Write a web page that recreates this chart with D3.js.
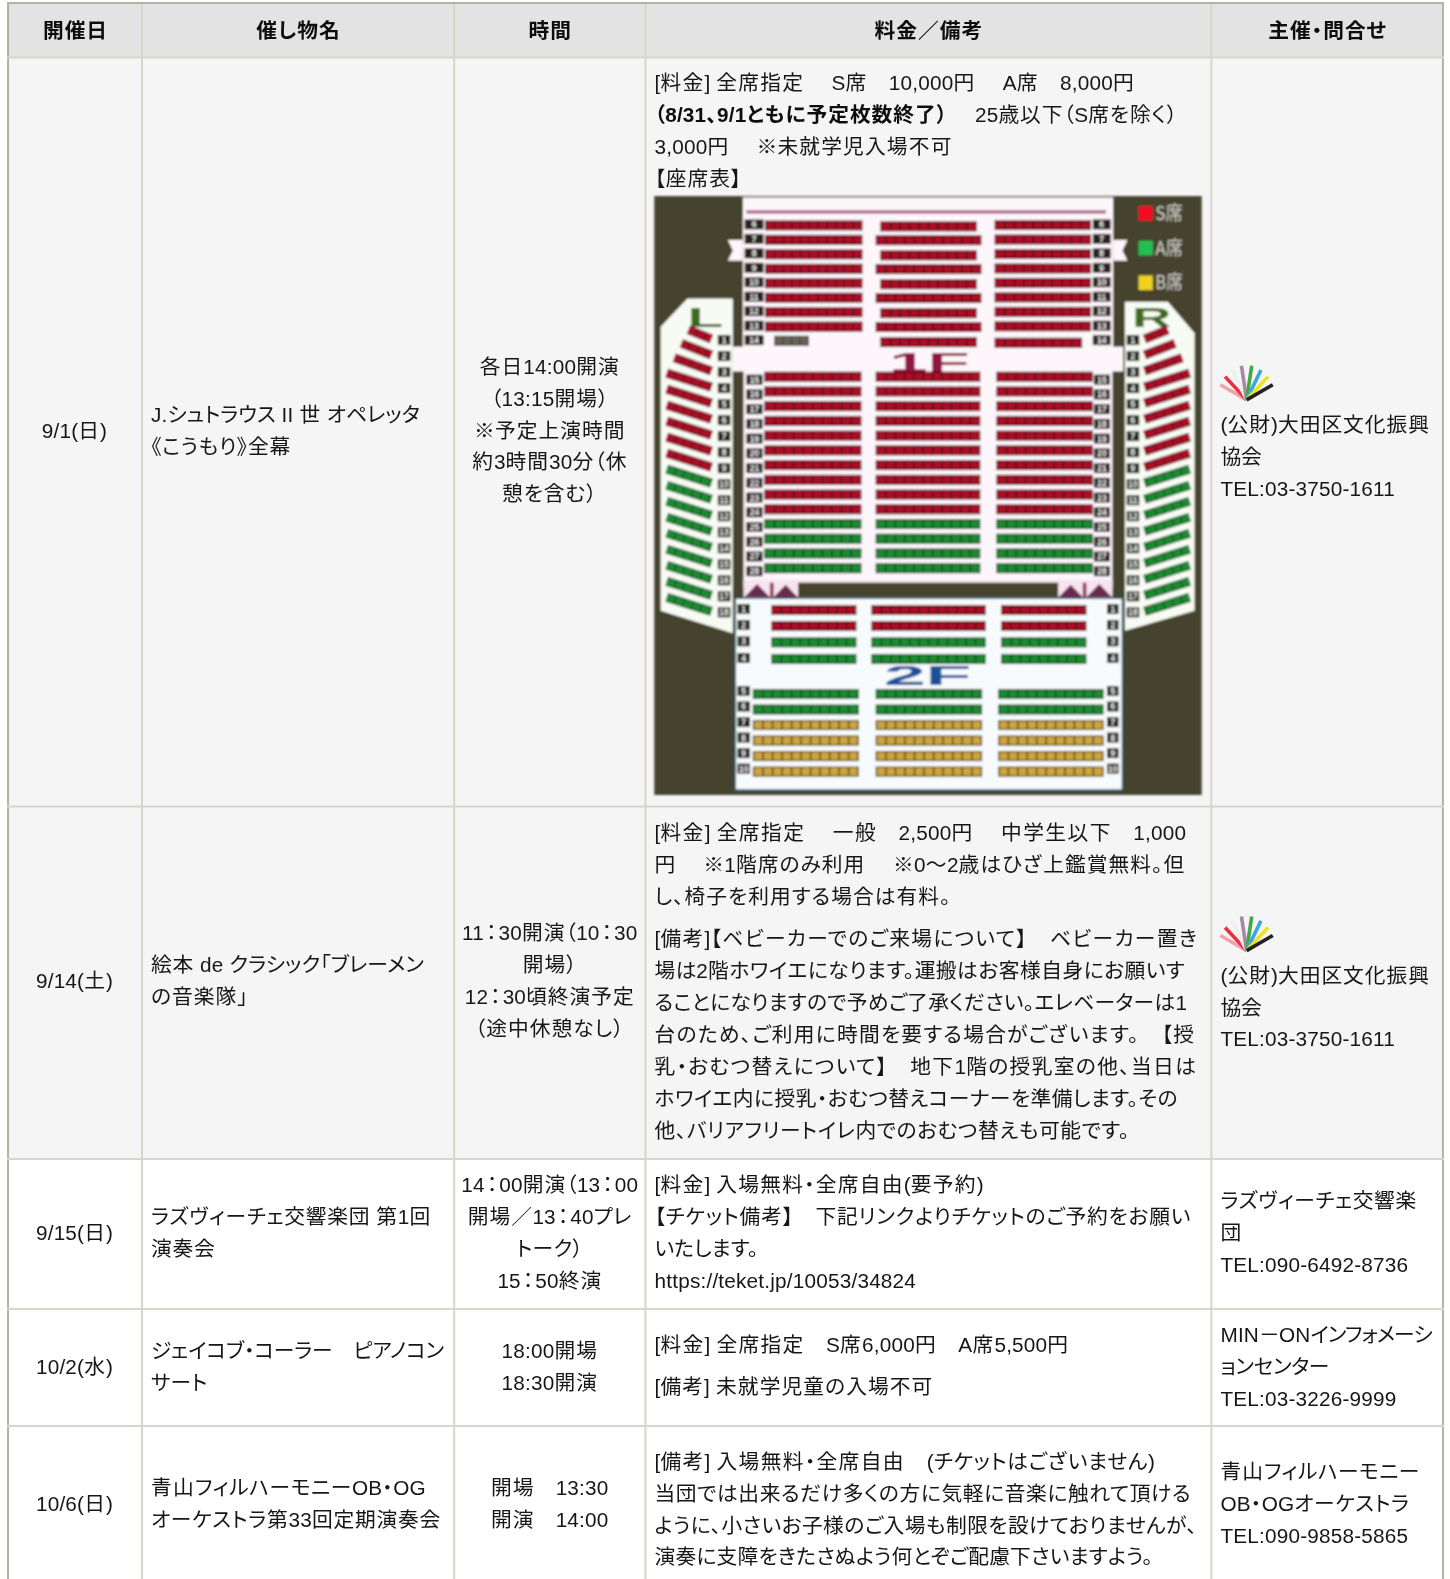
<!DOCTYPE html>
<html lang="ja">
<head>
<meta charset="utf-8">
<script src="https://cdn.jsdelivr.net/npm/d3@7"></script>
<style>
  html, body { margin: 0; padding: 0; background: #fff; overflow: hidden; }
  svg { display: block; }
  .t { font-family: "Liberation Sans", "Noto Sans CJK JP", sans-serif; font-size: 20.6px; fill: #161616;
       font-feature-settings: "palt"; white-space: pre; }
  .h { font-weight: bold; fill: #111; }
</style>
</head>
<body>
<div id="chart"></div>
<script>
// Table contents
const headers = ["開催日", "催し物名", "時間", "料金／備考", "主催・問合せ"];
const dates = ["9/1(日)", "9/14(土)", "9/15(日)", "10/2(水)", "10/6(日)"];
const events = [
  ["J.シュトラウス II 世 オペレッタ", "《こうもり》全幕"],
  ["絵本 de クラシック「ブレーメン", "の音楽隊」"],
  ["ラズヴィーチェ交響楽団 第1回", "演奏会"],
  ["ジェイコブ・コーラー　ピアノコン", "サート"],
  ["青山フィルハーモニーOB・OG", "オーケストラ第33回定期演奏会"]
];
const times = [
  ["各日14:00開演", "（13:15開場）", "※予定上演時間", "約3時間30分（休", "憩を含む）"],
  ["11：30開演（10：30", "開場）", "12：30頃終演予定", "（途中休憩なし）"],
  ["14：00開演（13：00", "開場／13：40プレ", "トーク）", "15：50終演"],
  ["18:00開場", "18:30開演"],
  ["開場　13:30", "開演　14:00"]
];
// "" = paragraph gap, *...* = bold
const details = [
  ["[料金] 全席指定　 S席　10,000円　 A席　8,000円",
   "*（8/31、9/1ともに予定枚数終了）*　 25歳以下（S席を除く）",
   "3,000円　 ※未就学児入場不可",
   "【座席表】"],
  ["[料金] 全席指定　 一般　2,500円　 中学生以下　1,000",
   "円　 ※1階席のみ利用　 ※0～2歳はひざ上鑑賞無料。但",
   "し、椅子を利用する場合は有料。",
   "",
   "[備考]【ベビーカーでのご来場について】　ベビーカー置き",
   "場は2階ホワイエになります。運搬はお客様自身にお願いす",
   "ることになりますので予めご了承ください。エレベーターは1",
   "台のため、ご利用に時間を要する場合がございます。　【授",
   "乳・おむつ替えについて】　地下1階の授乳室の他、当日は",
   "ホワイエ内に授乳・おむつ替えコーナーを準備します。その",
   "他、バリアフリートイレ内でのおむつ替えも可能です。"],
  ["[料金] 入場無料・全席自由(要予約)",
   "【チケット備考】　下記リンクよりチケットのご予約をお願い",
   "いたします。",
   "https://teket.jp/10053/34824"],
  ["[料金] 全席指定　S席6,000円　A席5,500円",
   "",
   "[備考] 未就学児童の入場不可"],
  ["[備考] 入場無料・全席自由　(チケットはございません)",
   "当団では出来るだけ多くの方に気軽に音楽に触れて頂ける",
   "ように、小さいお子様のご入場も制限を設けておりませんが、",
   "演奏に支障をきたさぬよう何とぞご配慮下さいますよう。"]
];
const organizers = [
  ["(公財)大田区文化振興", "協会", "TEL:03-3750-1611"],
  ["(公財)大田区文化振興", "協会", "TEL:03-3750-1611"],
  ["ラズヴィーチェ交響楽", "団", "TEL:090-6492-8736"],
  ["MIN－ONインフォメーシ", "ョンセンター", "TEL:03-3226-9999"],
  ["青山フィルハーモニー", "OB・OGオーケストラ", "TEL:090-9858-5865"]
];
const logoColors = ["#f0a0b0", "#e8303a", "#efefef", "#a888a8", "#45a845", "#3aa8e0", "#f0e020", "#222222"];

// Seat map rows
const upperRows = ["6", "7", "8", "9", "10", "11", "12", "13", "14"];
const lowerRows = ["15", "16", "17", "18", "19", "20", "21", "22", "23", "24", "25", "26", "27", "28"];
const lowerClass = ["S", "S", "S", "S", "S", "S", "S", "S", "S", "S", "A", "A", "A", "A"];
const sideRows = ["1", "2", "3", "4", "5", "6", "7", "8", "9", "10", "11", "12", "13", "14", "15", "16", "17", "18"];
const sideClass = ["S", "S", "S", "S", "S", "S", "S", "S", "S", "A", "A", "A", "A", "A", "A", "A", "A", "A"];
const balconyFront = ["1", "2", "3", "4"];
const balconyFrontClass = ["S", "S", "A", "A"];
const balconyBack = ["5", "6", "7", "8", "9", "10"];
const balconyBackClass = ["A", "A", "B", "B", "B", "B"];
const legendLabels = ["S席", "A席", "B席"];
const legendClass = ["S", "A", "B"];

const seatColor = { S: "#aa1026", A: "#1c8a30", B: "#cfa53c", N: "#66645a" };
const seatLine = { S: "#560c18", A: "#104e20", B: "#574516", N: "#44433a" };

// Layout, in the coordinates of the 1440 wide view
const colEdges = [8, 141, 451, 641, 1203, 1433];
const rowEdges = [3, 57, 801, 1151, 1300, 1416, 1568];
const rowFill = ["#e3e3e3", "#f5f5f5", "#f5f5f5", "#ffffff", "#ffffff", "#ffffff"];
const rowMid = [427, 974, 1224, 1357, 1493];
const detailFirst = [82, 827, 1176, 1335, 1451];
const lineH = 31.7;
// right ends of the wrapped lines, so each line fits the width it has in the reference
const eventEnds = [[417, 289], [421, 247], [428, 214], [441, 206], [423, 438]];
const detailEnds = [
  [1127, 1170, 946, 737],
  [1178, 1177, 945, 1190, 1177, 1179, 1187, 1189, 1170, 1122],
  [977, 1183, 753, 910],
  [1062, 927],
  [1147, 1183, 1189, 1145]
];
const organizerEnds = [[1420, 1253, 1387], [1420, 1253, 1387], [1407, 1232, 1399], [1422, 1320, 1387], [1410, 1400, 1399]];

const svg = d3.select("#chart").append("svg")
  .attr("width", 1450).attr("height", 1579)
  .attr("viewBox", [0, 0, 1440, 1568]);

const defs = svg.append("defs");
defs.append("filter").attr("id", "soft").append("feGaussianBlur").attr("stdDeviation", 0.8);
defs.append("filter").attr("id", "softText").append("feGaussianBlur").attr("stdDeviation", 0.25);

// cell backgrounds
svg.append("g").selectAll("rect").data(rowFill).join("rect")
  .attr("x", 8).attr("width", 1425)
  .attr("y", (d, i) => rowEdges[i])
  .attr("height", (d, i) => rowEdges[i + 1] - rowEdges[i])
  .attr("fill", d => d);

// grid lines
svg.append("g").selectAll("line").data(colEdges).join("line")
  .attr("x1", d => d).attr("x2", d => d).attr("y1", 2).attr("y2", 1568)
  .attr("stroke", (d, i) => i == 0 || i == 5 ? "#b5b2a4" : "#d8d5cc").attr("stroke-width", 2);
svg.append("g").selectAll("line").data(rowEdges.slice(0, 6)).join("line")
  .attr("x1", 7).attr("x2", 1434).attr("y1", d => d).attr("y2", d => d)
  .attr("stroke", (d, i) => i == 0 ? "#b5b2a4" : "#d8d5cc").attr("stroke-width", 2);

const text = svg.append("g").attr("filter", "url(#softText)");

const isCjk = run => /[\u3000-\uffef《》\u4e00-\u9fff]/.test(run);

// kanji, kana and latin are spaced differently in the reference
function spacing(run) {
  if (run == "：") return 2;
  if (/[\u4e00-\u9fff]/.test(run)) return 1.0;
  if (isCjk(run)) return 0.35;
  return 0.2;
}

function addLine(line, x, cy, anchor, bold, end) {
  const t = text.append("text").attr("class", bold ? "t h" : "t")
    .attr("x", x).attr("y", cy + 7.5).attr("text-anchor", anchor);
  line.split("*").forEach((part, i) => {
    if (!part) return;
    (part.match(/：|[\u4e00-\u9fff]+|[\u3000-\uffef《》]+|[^\u3000-\uffef《》]+/g) || []).forEach(run => {
      t.append("tspan").attr("font-weight", i % 2 ? "bold" : null).attr("fill", i % 2 ? "#111" : null)
        .attr("dx", run == "：" ? 2 : null)
        .style("letter-spacing", spacing(run) + "px").text(run);
    });
  });
  if (!end) return;
  // share what is left of the line between the CJK glyphs, latin keeps its width
  const cjk = t.selectAll("tspan").filter(function () { return isCjk(this.textContent); });
  const count = d3.sum(cjk.nodes(), n => n.textContent.length);
  if (!count) return;
  const extra = (end - x - t.node().getComputedTextLength()) / count;
  cjk.each(function () {
    d3.select(this).style("letter-spacing", (spacing(this.textContent) + extra) + "px");
  });
}

function addBlock(lines, x, mid, anchor, ends) {
  const top = mid - (lines.length - 1) * lineH / 2;
  lines.forEach((l, i) => addLine(l, x, top + i * lineH, anchor, false, ends && ends[i]));
}

headers.forEach((h, i) => addLine(h, (colEdges[i] + colEdges[i + 1]) / 2 + 0.5, 30, "middle", true));

dates.forEach((d, i) => addLine(d, 74, rowMid[i], "middle"));
events.forEach((l, i) => addBlock(l, 150, rowMid[i], "start", eventEnds[i]));
times.forEach((l, i) => addBlock(l, 546, rowMid[i], "middle"));

details.forEach((lines, i) => {
  let y = detailFirst[i], n = 0;
  lines.forEach(l => {
    if (l === "") { y += 10; return; }
    addLine(l, 650, y, "start", false, detailEnds[i][n++]);
    y += lineH;
  });
});

organizers.forEach((l, i) => {
  const mid = rowMid[i] + (i < 2 ? 26 : 0);
  addBlock(l, 1212, mid, "start", organizerEnds[i]);
  if (i < 2) drawLogo(1238, mid - 56);
});

// small fan of coloured strokes next to the organiser
function drawLogo(cx, cy) {
  const a = d3.scaleLinear().domain([0, logoColors.length - 1]).range([-60, 60]);
  const len = d3.scaleLinear().domain([0, 3.5, 7]).range([30, 35, 30]);
  const g = svg.append("g").attr("transform", `translate(${cx},${cy})`);
  g.selectAll("line").data(logoColors).join("line")
    .attr("x1", 0).attr("y1", 0)
    .attr("x2", (d, i) => len(i) * Math.sin(a(i) * Math.PI / 180))
    .attr("y2", (d, i) => -len(i) * Math.cos(a(i) * Math.PI / 180))
    .attr("stroke", d => d).attr("stroke-width", 3.6);
}

// Seat map. u,v are zoomed picture units (2.8 and 3 per reference pixel)
const U = d3.scaleLinear().domain([0, 1568]).range([645.5, 1201.6]);
const V = d3.scaleLinear().domain([0, 720]).range([188.7, 427]);
const map = svg.append("g").attr("filter", "url(#soft)");
const pts = p => p.map(([u, v]) => [U(u), V(v)].join(",")).join(" ");
const dark = "#45432f", hall = "#fdf6fb";

function box(g, u0, v0, u1, v1, fill) {
  return g.append("rect").attr("x", U(u0)).attr("y", V(v0))
    .attr("width", U(u1) - U(u0)).attr("height", V(v1) - V(v0)).attr("fill", fill);
}
function poly(p, fill) { map.append("polygon").attr("points", pts(p)).attr("fill", fill); }

function seats(u0, u1, v, cls) {
  const g = map.append("g");
  box(g, u0, v - 15, u1, v + 15, seatLine[cls]);
  const n = Math.round((u1 - u0) / 26);
  const s = d3.scaleBand().domain(d3.range(n)).range([u0, u1]).padding(0.16);
  g.selectAll("rect.s").data(d3.range(n)).join("rect").attr("class", "s")
    .attr("x", d => U(s(d))).attr("width", U(s.bandwidth()) - U(0))
    .attr("y", V(v - 11)).attr("height", V(22) - V(0)).attr("fill", seatColor[cls]);
}

function rowTag(u0, u1, v, label) {
  box(map, u0, v - 15, u1, v + 15, "#25231f");
  map.append("text").attr("x", U((u0 + u1) / 2)).attr("y", V(v + 9))
    .attr("text-anchor", "middle").attr("fill", "#f4f4f4")
    .attr("font-family", "Liberation Sans").attr("font-size", 8.5).attr("font-weight", "bold").text(label);
}

box(map, 12, 18, 1545, 1815, dark);

// side wings
poly([[30, 410], [105, 325], [232, 325], [232, 1330], [30, 1262]], "#f8fbf4");
poly([[1525, 430], [1450, 335], [1330, 335], [1330, 1322], [1525, 1262]], "#f8fbf4");

// hall floor, ribbons, stage
box(map, 260, 22, 1297, 1190, hall);
box(map, 232, 470, 1325, 545, hall);
poly([[218, 150], [260, 150], [260, 212], [218, 212], [232, 181]], hall);
poly([[1337, 150], [1297, 150], [1297, 212], [1337, 212], [1323, 181]], hall);
box(map, 232, 545, 262, 1225, dark);
box(map, 1295, 545, 1325, 1225, dark);
box(map, 262, 1170, 1295, 1225, "#f8e4ee");
box(map, 415, 1178, 1143, 1222, dark);
[[300, 1182], [380, 1184], [1178, 1184], [1258, 1182]].forEach(([u, v]) =>
  poly([[u - 36, v + 40], [u, v], [u + 36, v + 40]], "#6a2a50"));
box(map, 336, 1178, 346, 1222, "#8e2a5a");
box(map, 1212, 1178, 1222, 1222, "#8e2a5a");
box(map, 270, 61, 1277, 70, "#a4587a");

// floor marks
function mark(label, u0, u1, v0, v1, fill) {
  map.append("text").attr("x", U(u0)).attr("y", V(v1)).attr("fill", fill)
    .attr("font-family", "Liberation Sans").attr("font-weight", "bold")
    .attr("font-size", (V(v1) - V(v0)) / 0.7)
    .attr("textLength", U(u1) - U(u0)).attr("lengthAdjust", "spacingAndGlyphs").text(label);
}
mark("1F", 670, 895, 487, 545, "#8e1240");
mark("L", 105, 205, 352, 410, "#3c6a1c");
mark("R", 1350, 1460, 355, 412, "#3c6a1c");

// 1F upper rows
upperRows.forEach((r, i) => {
  const v = 103 + i * 43.4;
  rowTag(265, 318, v, r);
  rowTag(1240, 1290, v, r);
  if (r == "14") {
    seats(348, 445, v + 2, "N");
    seats(965, 1210, v + 8, "S");
  } else {
    seats(322, 595, v + 3, "S");
    seats(965, 1235, v + 2, "S");
  }
  if (i % 2) seats(632, 928, v + 4, "S");
  else seats(645, 915, v + 6, "S");
});

// 1F lower rows
lowerRows.forEach((r, i) => {
  const v = 560 + i * 44.2;
  rowTag(270, 315, v + 9, r);
  rowTag(1243, 1288, v + 9, r);
  seats(320, 592, v, lowerClass[i]);
  seats(632, 925, v, lowerClass[i]);
  seats(970, 1240, v, lowerClass[i]);
});

// side seats, slanted
sideRows.forEach((r, i) => {
  const v = 450 + i * 48.06;
  rowTag(190, 225, v, r);
  rowTag(1335, 1370, v, r);
  const uL = [108, 88, 68][i] || 47;
  const drop = [28, 35, 40][i] || 42;
  [[uL, 172], [1558 - uL, 1385]].forEach(([a, b]) => {
    const line = () => map.append("line")
      .attr("x1", U(a)).attr("y1", V(v - 3 - drop)).attr("x2", U(b)).attr("y2", V(v - 3));
    line().attr("stroke", seatLine[sideClass[i]]).attr("stroke-width", 9);
    line().attr("stroke", seatColor[sideClass[i]]).attr("stroke-width", 7).attr("stroke-dasharray", "8 1");
  });
});

// 2F
box(map, 236, 1222, 1326, 1804, "#2a5a70");
box(map, 241, 1227, 1321, 1798, "#f8fbfd");
mark("2F", 655, 900, 1425, 1485, "#1a4f9a");
balconyFront.forEach((r, i) => {
  const v = [1260, 1308, 1357, 1407][i];
  rowTag(245, 280, v - 3, r);
  rowTag(1280, 1312, v - 3, r);
  seats(340, 578, v, balconyFrontClass[i]);
  seats(620, 940, v, balconyFrontClass[i]);
  seats(983, 1222, v, balconyFrontClass[i]);
});
balconyBack.forEach((r, i) => {
  const v = 1512 + i * 46.6;
  rowTag(245, 280, v - 9, r);
  rowTag(1280, 1312, v - 9, r);
  seats(288, 585, v, balconyBackClass[i]);
  seats(632, 930, v, balconyBackClass[i]);
  seats(975, 1270, v, balconyBackClass[i]);
});

// legend
const legendFill = { S: "#f01020", A: "#20c050", B: "#f0d020" };
legendLabels.forEach((l, i) => {
  const v = 70 + i * 104;
  box(map, 1368, v - 22, 1408, v + 22, legendFill[legendClass[i]]);
  map.append("text").attr("x", U(1415)).attr("y", V(v + 20)).attr("fill", "#cfcfc6")
    .attr("font-family", "Noto Sans CJK JP").attr("font-size", 19)
    .attr("textLength", U(1492) - U(1415)).attr("lengthAdjust", "spacingAndGlyphs").text(l);
});
</script>
</body>
</html>
